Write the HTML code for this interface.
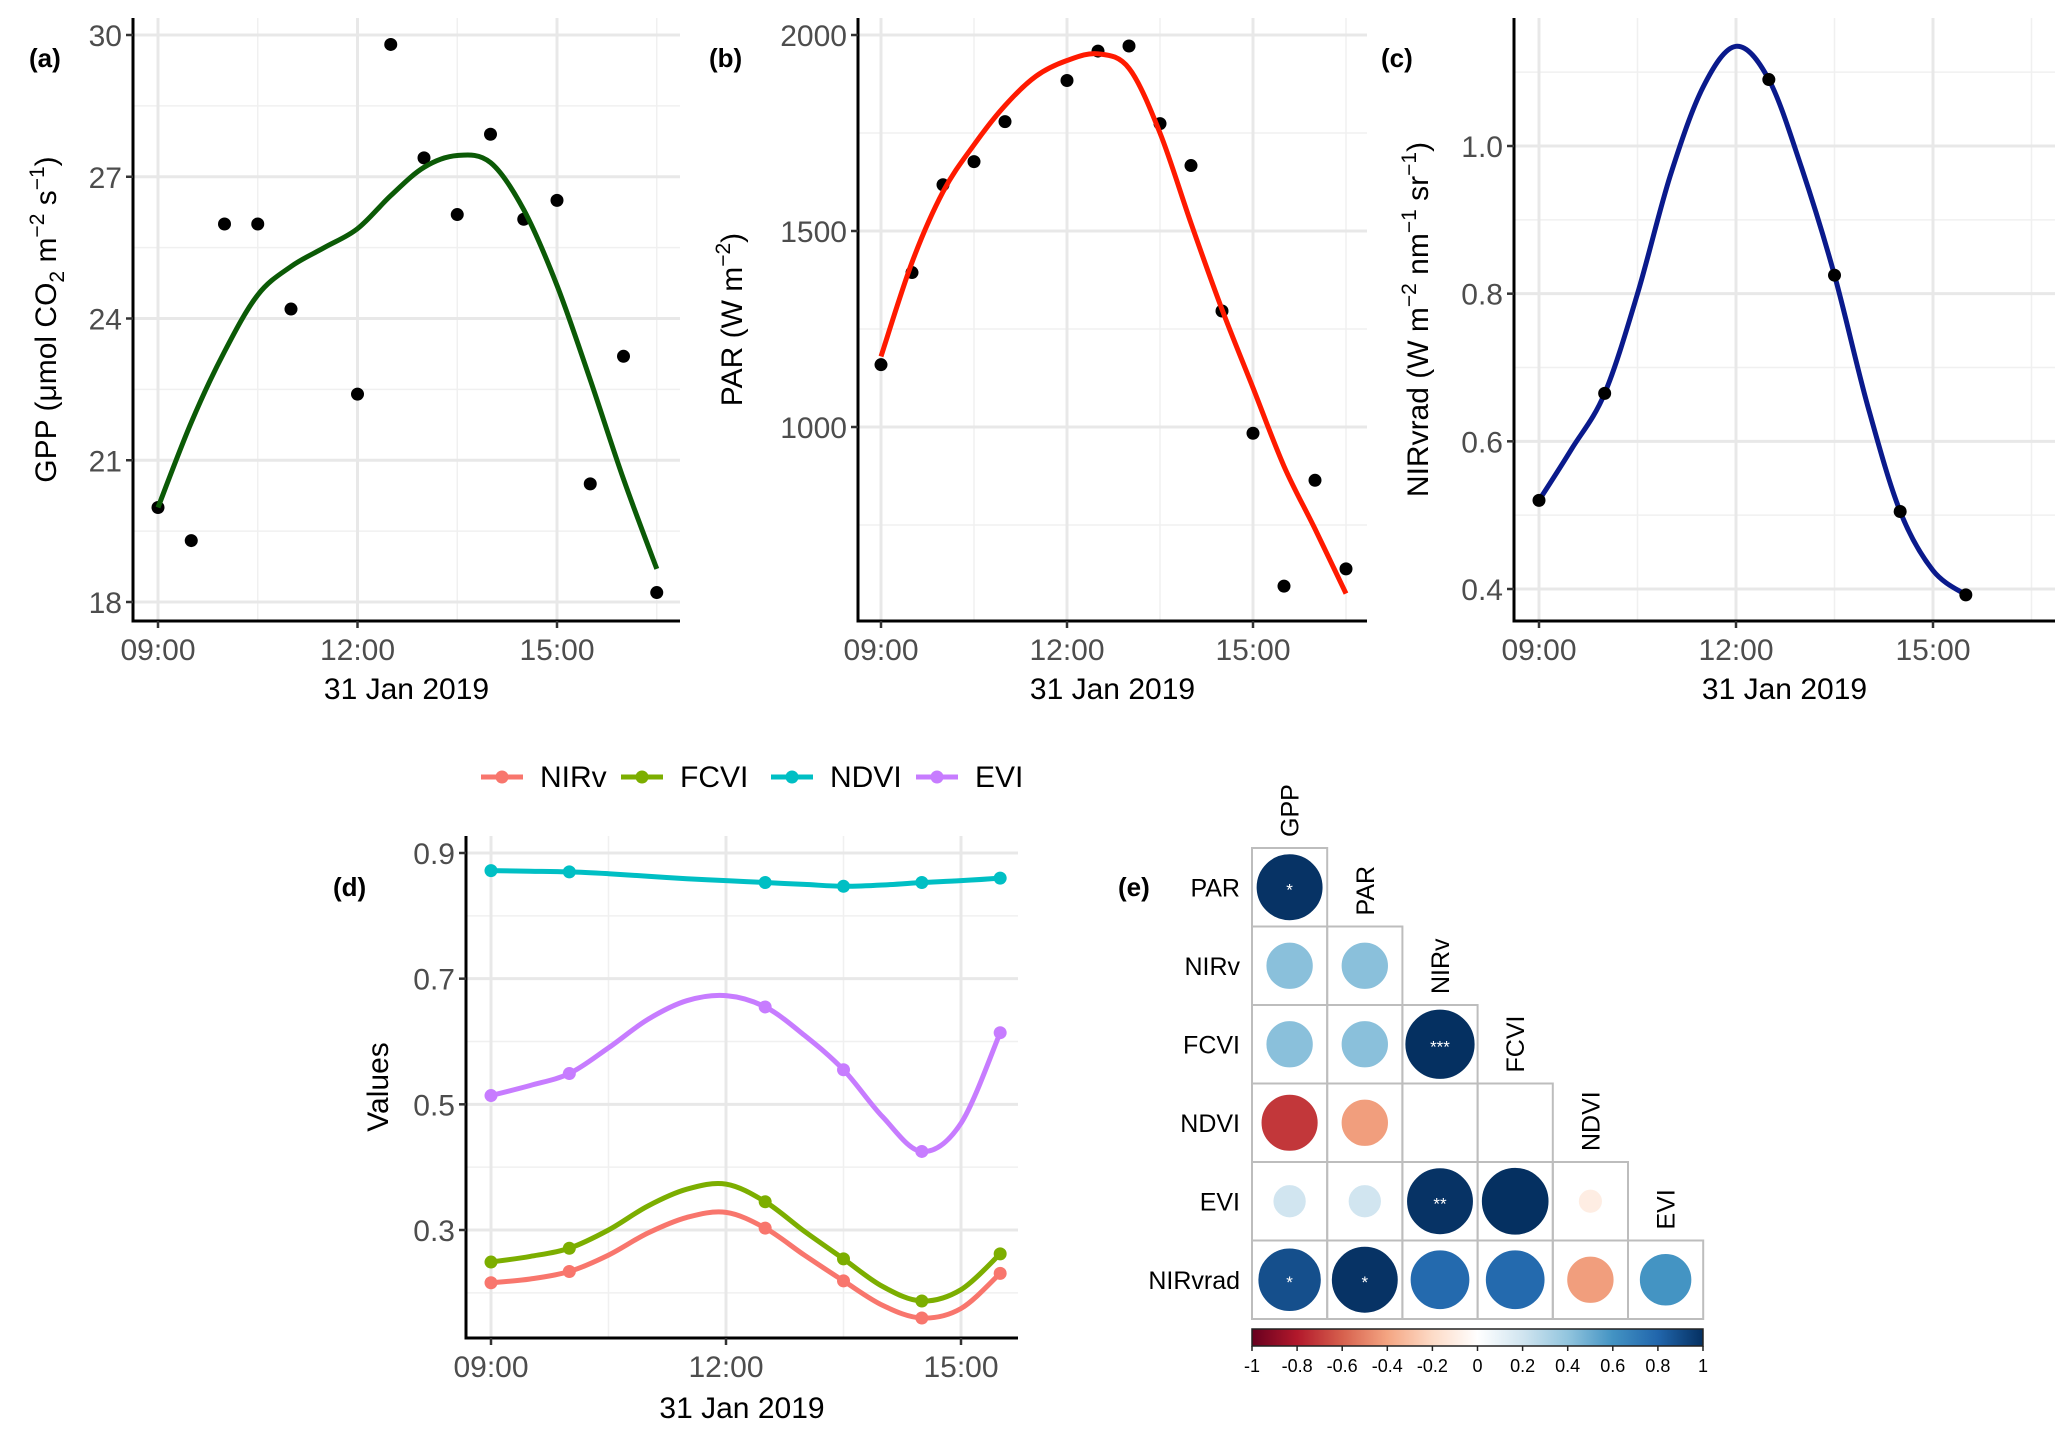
<!DOCTYPE html>
<html><head><meta charset="utf-8">
<style>
html,body{margin:0;padding:0;background:#fff;}
svg{display:block;font-family:"Liberation Sans",Arial,sans-serif;}
.tick{font-size:30px;fill:#4d4d4d;}
.ttl{font-size:30px;fill:#000;}
.plab{font-size:26px;font-weight:bold;fill:#000;}
</style></head>
<body>
<svg id="fig" width="2067" height="1441" viewBox="0 0 2067 1441" xmlns="http://www.w3.org/2000/svg">
<g id="root"></g>
</svg>
<script>
// ---------- data ----------
const gppTimes = [9,9.5,10,10.5,11,12,12.5,13,13.5,14,14.5,15,15.5,16,16.5];
const gppValues = [20.0,19.3,26.0,26.0,24.2,22.4,29.8,27.4,26.2,27.9,26.1,26.5,20.5,23.2,18.2];
const gppCurveTimes = [9,9.5,10,10.5,11,11.5,12,12.5,13,13.5,14,14.5,15,15.5,16,16.5];
const gppCurve = [20.0,21.8,23.3,24.5,25.1,25.5,25.9,26.6,27.2,27.45,27.3,26.3,24.7,22.7,20.6,18.7];

const parTimes = [9,9.5,10,10.5,11,12,12.5,13,13.5,14,14.5,15,15.5,16,16.5];
const parValues = [1159,1394,1618,1677,1779,1884,1959,1972,1774,1667,1296,984,594,864,638];
const parCurveTimes = [9,9.5,10,10.5,11,11.5,12,12.5,13,13.5,14,14.5,15,15.5,16,16.5];
const parCurve = [1180,1420,1600,1720,1820,1895,1935,1952,1915,1750,1520,1300,1100,900,740,575];

const nirradTimes = [9,10,12.5,13.5,14.5,15.5];
const nirradValues = [0.52,0.665,1.09,0.825,0.505,0.392];
const nirradCurveTimes = [9,9.5,10,10.5,11,11.5,12,12.5,13,13.5,14,14.5,15,15.5];
const nirradCurve = [0.52,0.59,0.665,0.80,0.96,1.08,1.135,1.09,0.97,0.825,0.65,0.505,0.425,0.392];

const viTimes = [9,10,12.5,13.5,14.5,15.5];
const viNames = ["NIRv","FCVI","NDVI","EVI"];
const nirvValues = [0.216,0.234,0.303,0.219,0.160,0.231];
const fcviValues = [0.249,0.271,0.345,0.254,0.187,0.262];
const ndviValues = [0.872,0.870,0.853,0.847,0.853,0.860];
const eviValues = [0.514,0.549,0.655,0.555,0.425,0.614];
const viCurveTimes = [9,9.5,10,10.5,11,11.5,12,12.5,13,13.5,14,14.5,15,15.5];
const nirvCurve = [0.216,0.222,0.234,0.26,0.295,0.32,0.328,0.303,0.26,0.219,0.18,0.160,0.175,0.231];
const fcviCurve = [0.249,0.258,0.271,0.30,0.338,0.365,0.373,0.345,0.298,0.254,0.21,0.187,0.205,0.262];
const ndviCurve = [0.872,0.871,0.870,0.867,0.863,0.859,0.856,0.853,0.850,0.847,0.849,0.853,0.856,0.860];
const eviCurve = [0.514,0.53,0.549,0.59,0.635,0.665,0.673,0.655,0.61,0.555,0.48,0.425,0.47,0.614];

const corrVars = ["GPP","PAR","NIRv","FCVI","NDVI","EVI","NIRvrad"];
const corrRowPAR = [0.86];
const corrRowNIRv = [0.42,0.42];
const corrRowFCVI = [0.42,0.42,0.95];
const corrRowNDVI = [-0.62,-0.42,0,0];
const corrRowEVI = [0.2,0.2,0.86,0.88,-0.1];
const corrRowNIRvrad = [0.77,0.86,0.68,0.68,-0.42,0.52];
const corrStars = {"1-0":"*","3-2":"***","5-2":"**","6-0":"*","6-1":"*"};
const cbarTicks = ["-1","-0.8","-0.6","-0.4","-0.2","0","0.2","0.4","0.6","0.8","1"];

// ---------- helpers ----------
const NS="http://www.w3.org/2000/svg";
const root=document.getElementById('root');
function mk(tag,attrs,parent){const e=document.createElementNS(NS,tag);for(const k in attrs)e.setAttribute(k,attrs[k]);(parent||root).appendChild(e);return e;}
function lin(d0,d1,r0,r1){return v=>r0+(v-d0)*(r1-r0)/(d1-d0);}
function smooth(pts){
  let d="M"+pts[0][0].toFixed(1)+","+pts[0][1].toFixed(1);
  for(let i=0;i<pts.length-1;i++){
    const p0=pts[i-1]||pts[i],p1=pts[i],p2=pts[i+1],p3=pts[i+2]||p2;
    const c1=[p1[0]+(p2[0]-p0[0])/6,p1[1]+(p2[1]-p0[1])/6];
    const c2=[p2[0]-(p3[0]-p1[0])/6,p2[1]-(p3[1]-p1[1])/6];
    d+=" C"+c1[0].toFixed(1)+","+c1[1].toFixed(1)+" "+c2[0].toFixed(1)+","+c2[1].toFixed(1)+" "+p2[0].toFixed(1)+","+p2[1].toFixed(1);
  }
  return d;
}
function fmtT(h){return (h<10?"0":"")+h+":00";}

function panel(o){
  const g=mk('g',{});
  
  
  const X=lin(o.xd[0],o.xd[1],o.xr[0],o.xr[1]);
  const Y=lin(o.yd[0],o.yd[1],o.yr[0],o.yr[1]);
  const L=o.left,R=o.right,T=o.top,B=o.bottom;
  o.yMinor.forEach(v=>{const l=mk('line',{x1:L,x2:R,y1:Y(v),y2:Y(v),stroke:'#f0f0f0','stroke-width':1.5},g);});
  o.xMinor.forEach(v=>{const l=mk('line',{x1:X(v),x2:X(v),y1:T,y2:B,stroke:'#f0f0f0','stroke-width':1.5},g);});
  o.yMajor.forEach(v=>{const l=mk('line',{x1:L,x2:R,y1:Y(v),y2:Y(v),stroke:'#e8e8e8','stroke-width':3},g);});
  o.xMajor.forEach(v=>{const l=mk('line',{x1:X(v),x2:X(v),y1:T,y2:B,stroke:'#e8e8e8','stroke-width':3},g);});
  const ya=mk('line',{x1:L,x2:L,y1:T,y2:B+1.5,stroke:'#000','stroke-width':3},g);
  
  const xa=mk('line',{x1:L-1.5,x2:R,y1:B,y2:B,stroke:'#000','stroke-width':3},g);
  
  o.yMajor.forEach((v,i)=>{
    mk('line',{x1:L-7,x2:L,y1:Y(v),y2:Y(v),stroke:'#333','stroke-width':2.5},g);
    const t=mk('text',{x:L-11,y:Y(v)+11,'text-anchor':'end',class:'tick'},g);
    
    t.textContent=o.yLabels[i];
  });
  o.xMajor.forEach(v=>{
    mk('line',{x1:X(v),x2:X(v),y1:B,y2:B+7,stroke:'#333','stroke-width':2.5},g);
    const t=mk('text',{x:X(v),y:o.tickY,'text-anchor':'middle',class:'tick'},g);
    
    t.textContent=fmtT(v);
  });
  const xt=mk('text',{x:(L+R)/2,y:o.titleY,'text-anchor':'middle',class:'ttl'},g);
  
  xt.textContent="31 Jan 2019";
  const yt=mk('text',{x:0,y:0,'text-anchor':'middle',class:'ttl',transform:`translate(${o.ytX},${(T+B)/2}) rotate(-90)`},g);
  
  yt.innerHTML=o.ytitle;
  const pl=mk('text',{x:o.plab[0],y:o.plab[1],class:'plab'},g);
  
  pl.textContent=o.plabText;
  return {g,X,Y};
}

// ---------- panel a ----------
(function(){
  const p=panel({name:'panel-a-gpp',xd:[9,15],xr:[158,557],yd:[18,30],yr:[602,35],left:133,right:680,top:18,bottom:621,
    yMajor:[18,21,24,27,30],yLabels:["18","21","24","27","30"],yMinor:[19.5,22.5,25.5,28.5],xMajor:[9,12,15],xMinor:[10.5,13.5,16.5],
    tickY:660,titleY:699,ytX:56,plab:[29,67],plabText:"(a)",
    ytitle:'GPP (μmol CO<tspan dy="8" font-size="21">2</tspan><tspan dy="-8"> m</tspan><tspan dy="-12" font-size="21">−2</tspan><tspan dy="12"> s</tspan><tspan dy="-12" font-size="21">−1</tspan><tspan dy="12">)</tspan>'});
  gppValues.forEach((v,i)=>{const c=mk('circle',{cx:p.X(gppTimes[i]),cy:p.Y(v),r:6.5,fill:'#000'},p.g);});
  const path=mk('path',{d:smooth(gppCurve.map((v,i)=>[p.X(gppCurveTimes[i]),p.Y(v)])),fill:'none',stroke:'#0b5a06','stroke-width':5},p.g);
  
})();
// ---------- panel b ----------
(function(){
  const p=panel({name:'panel-b-par',xd:[9,15],xr:[881,1253],yd:[1000,2000],yr:[427,35],left:858,right:1367,top:18,bottom:621,
    yMajor:[1000,1500,2000],yLabels:["1000","1500","2000"],yMinor:[750,1250,1750],xMajor:[9,12,15],xMinor:[10.5,13.5,16.5],
    tickY:660,titleY:699,ytX:742,plab:[709,67],plabText:"(b)",
    ytitle:'PAR (W m<tspan dy="-12" font-size="21">−2</tspan><tspan dy="12">)</tspan>'});
  parValues.forEach((v,i)=>{const c=mk('circle',{cx:p.X(parTimes[i]),cy:p.Y(v),r:6.5,fill:'#000'},p.g);});
  const path=mk('path',{d:smooth(parCurve.map((v,i)=>[p.X(parCurveTimes[i]),p.Y(v)])),fill:'none',stroke:'#ff1a00','stroke-width':5},p.g);
  
})();
// ---------- panel c ----------
(function(){
  const p=panel({name:'panel-c-nirvrad',xd:[9,15],xr:[1539,1933],yd:[0.4,1.0],yr:[589,146],left:1514,right:2055,top:18,bottom:621,
    yMajor:[0.4,0.6,0.8,1.0],yLabels:["0.4","0.6","0.8","1.0"],yMinor:[0.5,0.7,0.9,1.1],xMajor:[9,12,15],xMinor:[10.5,13.5,16.5],
    tickY:660,titleY:699,ytX:1428,plab:[1381,67],plabText:"(c)",
    ytitle:'NIRvrad (W m<tspan dy="-12" font-size="21">−2</tspan><tspan dy="12"> nm</tspan><tspan dy="-12" font-size="21">−1</tspan><tspan dy="12"> sr</tspan><tspan dy="-12" font-size="21">−1</tspan><tspan dy="12">)</tspan>'});
  const path=mk('path',{d:smooth(nirradCurve.map((v,i)=>[p.X(nirradCurveTimes[i]),p.Y(v)])),fill:'none',stroke:'#0a1a8c','stroke-width':5},p.g);
  
  nirradValues.forEach((v,i)=>{const c=mk('circle',{cx:p.X(nirradTimes[i]),cy:p.Y(v),r:6.5,fill:'#000'},p.g);});
})();
// ---------- panel d ----------
(function(){
  const p=panel({name:'panel-d-vegetation-indices',xd:[9,15],xr:[491,961],yd:[0.3,0.9],yr:[1230,853],left:466,right:1018,top:836,bottom:1338,
    yMajor:[0.3,0.5,0.7,0.9],yLabels:["0.3","0.5","0.7","0.9"],yMinor:[0.2,0.4,0.6,0.8],xMajor:[9,12,15],xMinor:[10.5,13.5],
    tickY:1377,titleY:1418,ytX:388,plab:[333,896],plabText:"(d)",ytitle:'Values'});
  const cols=["#f8766d","#7cae00","#00bfc4","#c77cff"];
  const vals=[nirvValues,fcviValues,ndviValues,eviValues];
  const curves=[nirvCurve,fcviCurve,ndviCurve,eviCurve];
  vals.forEach((arr,s)=>{
    const path=mk('path',{d:smooth(curves[s].map((v,i)=>[p.X(viCurveTimes[i]),p.Y(v)])),fill:'none',stroke:cols[s],'stroke-width':5},p.g);
    
    arr.forEach((v,i)=>{const c=mk('circle',{cx:p.X(viTimes[i]),cy:p.Y(v),r:6.5,fill:cols[s]},p.g);});
  });
  const lg=mk('g',{});
  
  const lx=[481,621,771,916];
  viNames.forEach((n,i)=>{
    const e=mk('g',{},lg);
    
    mk('line',{x1:lx[i],x2:lx[i]+42,y1:777,y2:777,stroke:cols[i],'stroke-width':5},e);
    mk('circle',{cx:lx[i]+21,cy:777,r:6.5,fill:cols[i]},e);
    const t=mk('text',{x:lx[i]+59,y:787,class:'ttl','font-size':'28'},e);
    t.textContent=n;
  });
})();
// ---------- panel e ----------
(function(){
  const g=mk('g',{});
  
  const stops=[[-1,[103,0,31]],[-0.8,[178,24,43]],[-0.6,[214,96,77]],[-0.4,[244,165,130]],[-0.2,[253,219,199]],[0,[255,255,255]],[0.2,[209,229,240]],[0.4,[146,197,222]],[0.6,[67,147,195]],[0.8,[33,102,172]],[1,[5,48,97]]];
  function col(v){v=Math.max(-1,Math.min(1,v));for(let i=0;i<stops.length-1;i++){if(v<=stops[i+1][0]){const t=(v-stops[i][0])/0.2;const a=stops[i][1],b=stops[i+1][1];return `rgb(${a.map((c,k)=>Math.round(c+(b[k]-c)*t)).join(',')})`;}}return 'rgb(5,48,97)';}
  function fillCol(v){const a=Math.abs(v);const s=a>0.5?Math.min(1,a*1.15):a;return col(Math.sign(v)*s);}
  const x0=1252,cw=75.2,y0=848,ch=78.5;
  const rows=[corrRowPAR,corrRowNIRv,corrRowFCVI,corrRowNDVI,corrRowEVI,corrRowNIRvrad];
  rows.forEach((row,ri)=>{
    const r=ri+1;const cy=y0+ri*ch+ch/2;
    const lab=mk('text',{x:1240,y:cy+9,'text-anchor':'end','font-size':'25',fill:'#000'},g);
    
    lab.textContent=corrVars[r];
    row.forEach((v,ci)=>{
      const cx=x0+ci*cw+cw/2;
      const cell=mk('rect',{x:x0+ci*cw,y:y0+ri*ch,width:cw,height:ch,fill:'none',stroke:'#bdbdbd','stroke-width':2},g);
      
      if(Math.abs(v)>0){
        const c=mk('circle',{cx:cx,cy:cy,r:35*Math.sqrt(Math.abs(v)),fill:fillCol(v),stroke:fillCol(v),'stroke-width':1},g);
        
      }
      const st=corrStars[r+"-"+ci];
      if(st){const t=mk('text',{x:cx,y:cy+8,'text-anchor':'middle','font-size':'17',fill:'#fff'},g);t.textContent=st;}
    });
  });
  for(let c=0;c<6;c++){
    const cx=x0+c*cw+cw/2;const by=y0+c*ch-11;
    const t=mk('text',{x:0,y:0,'text-anchor':'start','font-size':'25',fill:'#000',transform:`translate(${cx+9},${by}) rotate(-90)`},g);
    
    t.textContent=corrVars[c];
  }
  const pl=mk('text',{x:1118,y:896,class:'plab'},g);
  
  pl.textContent="(e)";
  const defs=mk('defs',{},g);
  const lg=mk('linearGradient',{id:'rdbu',x1:'0',x2:'1',y1:'0',y2:'0'},defs);
  stops.forEach(s=>mk('stop',{offset:((s[0]+1)/2*100)+'%','stop-color':col(s[0])},lg));
  const cb=mk('rect',{x:1252,y:1329,width:451,height:17,fill:'url(#rdbu)',stroke:'#222','stroke-width':1.5},g);
  
  const CX=lin(-1,1,1252,1703);
  cbarTicks.forEach(s=>{
    const v=parseFloat(s);
    mk('line',{x1:CX(v),x2:CX(v),y1:1346,y2:1351,stroke:'#222','stroke-width':1.5},g);
    const t=mk('text',{x:CX(v),y:1372,'text-anchor':'middle','font-size':'18',fill:'#000'},g);
    
    t.textContent=s;
  });
})();
</script>
</body></html>
